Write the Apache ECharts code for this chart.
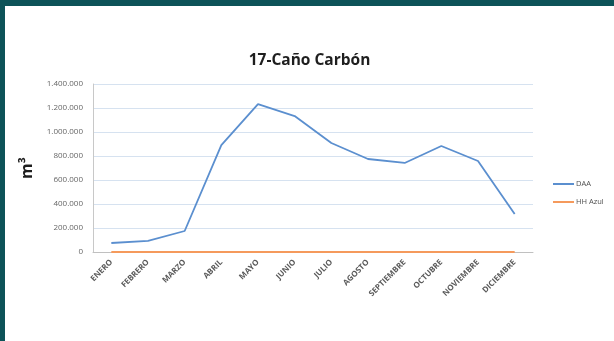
<!DOCTYPE html>
<html>
<head>
<meta charset="utf-8">
<script src="https://cdn.jsdelivr.net/npm/echarts@6/dist/echarts.min.js"></script>
<style>
  html, body { margin: 0; padding: 0; width: 614px; height: 341px; overflow: hidden; background: #0d5358; }
  #chart { position: absolute; left: 5px; top: 6px; width: 609px; height: 335px; background: #ffffff; }
</style>
</head>
<body>
<div id="chart"></div>
<script>
// Monthly volumes (m³) for station 17-Caño Carbón
const months = ['ENERO', 'FEBRERO', 'MARZO', 'ABRIL', 'MAYO', 'JUNIO', 'JULIO', 'AGOSTO', 'SEPTIEMBRE', 'OCTUBRE', 'NOVIEMBRE', 'DICIEMBRE'];
const daa = [75000, 92000, 175000, 890000, 1233000, 1133000, 908000, 775000, 742000, 883000, 758000, 317000];
const hhAzul = [0, 0, 0, 0, 0, 0, 0, 0, 0, 0, 0, 0];
const yTicks = { min: 0, max: 1400000, step: 200000 };

// thousands separator with dots
function fmt(v) {
  return String(v).replace(/\B(?=(\d{3})+(?!\d))/g, '.');
}

const chart = echarts.init(document.getElementById('chart'));
chart.setOption({
  animation: false,
  backgroundColor: '#ffffff',
  textStyle: { fontFamily: 'Open Sans, Lato, sans-serif' },
  title: {
    text: '17-Caño Carbón',
    left: 'center',
    top: 42,
    textStyle: { fontFamily: 'Open Sans', fontSize: 15.5, fontWeight: 'bold', color: '#1e1e1e' }
  },
  legend: {
    orient: 'vertical',
    left: 543,
    top: 169,
    itemWidth: 21,
    itemHeight: 2,
    itemGap: 10,
    icon: 'rect',
    data: ['DAA', 'HH Azul'],
    textStyle: { fontSize: 7.5, color: '#505050', padding: [0, 0, 0, -3] }
  },
  grid: { left: 88, right: 81, top: 78, bottom: 89 },
  xAxis: {
    type: 'category',
    data: months,
    boundaryGap: true,
    axisTick: { show: false },
    axisLine: { lineStyle: { color: '#c0c0c0', width: 1 } },
    axisLabel: { rotate: 45, fontSize: 8, fontWeight: 'bold', color: '#5a5a5a', margin: 9, interval: 0 }
  },
  yAxis: {
    type: 'value',
    min: yTicks.min,
    max: yTicks.max,
    interval: yTicks.step,
    name: 'm³',
    nameLocation: 'middle',
    nameGap: 52,
    nameRotate: 90,
    nameTextStyle: { fontSize: 16, fontWeight: 'bold', color: '#1e1e1e' },
    axisLine: { show: true, lineStyle: { color: '#c8c8c8' } },
    axisTick: { show: false },
    axisLabel: { fontSize: 8, color: '#666666', margin: 10, formatter: fmt },
    splitLine: { lineStyle: { color: '#d6e2f0', width: 1 } }
  },
  series: [
    {
      name: 'DAA',
      type: 'line',
      data: daa,
      showSymbol: false,
      lineStyle: { color: '#5b8fcf', width: 1.8 },
      itemStyle: { color: '#5b8fcf' }
    },
    {
      name: 'HH Azul',
      type: 'line',
      data: hhAzul,
      showSymbol: false,
      lineStyle: { color: '#f59a5c', width: 2 },
      itemStyle: { color: '#f59a5c' }
    }
  ]
});
</script>
</body>
</html>
